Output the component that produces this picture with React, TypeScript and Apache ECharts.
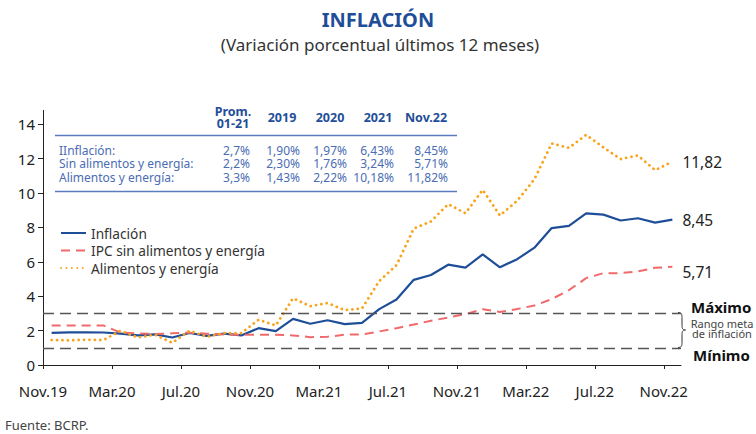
import { useEffect, useRef } from 'react';
import * as echarts from 'echarts';

const months = [
  'Nov.19', 'Dic.19', 'Ene.20', 'Feb.20', 'Mar.20', 'Abr.20', 'May.20', 'Jun.20', 'Jul.20', 'Ago.20',
  'Set.20', 'Oct.20', 'Nov.20', 'Dic.20', 'Ene.21', 'Feb.21', 'Mar.21', 'Abr.21', 'May.21', 'Jun.21',
  'Jul.21', 'Ago.21', 'Set.21', 'Oct.21', 'Nov.21', 'Dic.21', 'Ene.22', 'Feb.22', 'Mar.22', 'Abr.22',
  'May.22', 'Jun.22', 'Jul.22', 'Ago.22', 'Set.22', 'Oct.22', 'Nov.22',
];
const xTickLabels = ['Nov.19', 'Mar.20', 'Jul.20', 'Nov.20', 'Mar.21', 'Jul.21', 'Nov.21', 'Mar.22', 'Jul.22', 'Nov.22'];
const yTickValues = [0, 2, 4, 6, 8, 10, 12, 14];

const inflacion = [
  1.87, 1.90, 1.90, 1.89, 1.82, 1.72, 1.78, 1.60, 1.86, 1.69,
  1.82, 1.72, 2.14, 1.97, 2.68, 2.40, 2.60, 2.38, 2.45, 3.25,
  3.81, 4.95, 5.23, 5.83, 5.66, 6.43, 5.68, 6.15, 6.82, 7.96,
  8.09, 8.81, 8.74, 8.40, 8.53, 8.28, 8.45,
];
const sinAlimentosEnergia = [
  2.30, 2.30, 2.30, 2.30, 1.88, 1.84, 1.80, 1.84, 1.88, 1.82,
  1.77, 1.75, 1.76, 1.76, 1.72, 1.62, 1.64, 1.76, 1.78, 1.95,
  2.14, 2.35, 2.57, 2.76, 2.96, 3.24, 3.08, 3.25, 3.46, 3.83,
  4.35, 5.05, 5.34, 5.34, 5.44, 5.65, 5.71,
];
const alimentosEnergia = [
  1.45, 1.43, 1.47, 1.45, 1.99, 1.60, 1.76, 1.29, 1.99, 1.64,
  1.85, 1.85, 2.63, 2.30, 3.88, 3.42, 3.60, 3.19, 3.29, 4.88,
  5.80, 7.93, 8.35, 9.35, 8.82, 10.18, 8.69, 9.55, 10.80, 12.88,
  12.62, 13.38, 12.65, 11.97, 12.18, 11.33, 11.82,
];
const rangoMeta = [3, 1];
const seriesNames = ['Inflación', 'IPC sin alimentos y energía', 'Alimentos y energía'];

const tableColumns = ['Prom.\n01-21', '2019', '2020', '2021', 'Nov.22'];
const tableRowLabels = ['IInflación:', 'Sin alimentos y energía:', 'Alimentos y energía:'];
const tableInflacion = ['2,7%', '1,90%', '1,97%', '6,43%', '8,45%'];
const tableSinAE = ['2,2%', '2,30%', '1,76%', '3,24%', '5,71%'];
const tableAE = ['3,3%', '1,43%', '2,22%', '10,18%', '11,82%'];

const FONT = '"Noto Sans", sans-serif';
const BLUE = '#1F4E99';
const RED = '#F1696B';
const ORANGE = '#F8A31B';
const TABLE_BLUE = '#4A6DB3';

echarts.graphic.registerShape(
  'brace',
  echarts.graphic.extendPath(
    'M0,0 C3.5,0 4,1.5 4,5 L4,13 C4,16.5 5,17.5 7.5,17.5 C5,17.5 4,18.5 4,22 L4,30 C4,33.5 3.5,35 0,35',
    {}
  )
);

export default function App() {
  const ref = useRef<HTMLDivElement>(null);

  useEffect(() => {
    if (!ref.current) return;
    const chart = echarts.init(ref.current, undefined, { renderer: 'svg' });

    const fmt = (p: any) => Number(p.value[1]).toFixed(2).replace('.', ',');
    const toPairs = (arr: number[]) => arr.map((v, i) => [i + 0.5, v]);
    const xTickValues = xTickLabels.map((l) => months.indexOf(l));

    const colCenters = [233, 282, 330, 378, 426];
    const colRights = [250, 300, 347, 394, 448];
    const rowYs = [150.5, 163.7, 177];
    const tableRows = [tableInflacion, tableSinAE, tableAE];

    const graphic: any[] = [
      {
        type: 'text', x: 378, y: 19,
        style: { text: 'INFLACIÓN', font: `bold 20px ${FONT}`, fill: BLUE, align: 'center', verticalAlign: 'middle' },
      },
      {
        type: 'text', x: 380, y: 44,
        style: { text: '(Variación porcentual últimos 12 meses)', font: `17px ${FONT}`, fill: '#333', align: 'center', verticalAlign: 'middle' },
      },
      { type: 'line', shape: { x1: 55, y1: 135.5, x2: 457, y2: 135.5 }, style: { stroke: '#5B7DC0', lineWidth: 1.5 } },
      { type: 'line', shape: { x1: 55, y1: 191.5, x2: 457, y2: 191.5 }, style: { stroke: '#5B7DC0', lineWidth: 1.5 } },
      {
        type: 'text', x: 5, y: 425,
        style: { text: 'Fuente: BCRP.', font: `13px ${FONT}`, fill: '#444', align: 'left', verticalAlign: 'middle' },
      },
      {
        type: 'text', x: 691, y: 307,
        style: { text: 'Máximo', font: `bold 15px ${FONT}`, lineHeight: 15, fill: '#111', align: 'left', verticalAlign: 'middle' },
      },
      {
        type: 'text', x: 693, y: 355,
        style: { text: 'Mínimo', font: `bold 15px ${FONT}`, lineHeight: 15, fill: '#111', align: 'left', verticalAlign: 'middle' },
      },
      {
        type: 'text', x: 722, y: 323,
        style: { text: 'Rango meta', font: `11px ${FONT}`, lineHeight: 10, fill: '#444', align: 'center', verticalAlign: 'middle' },
      },
      {
        type: 'text', x: 722, y: 333,
        style: { text: 'de inflación', font: `11px ${FONT}`, lineHeight: 10, fill: '#444', align: 'center', verticalAlign: 'middle' },
      },
      { type: 'brace', x: 678, y: 312.5, style: { stroke: '#333', fill: 'none', lineWidth: 1 } },
    ];

    tableColumns.forEach((c, i) => {
      const lines = c.split('\n');
      const startY = 117.5 - ((lines.length - 1) * 11.5) / 2;
      lines.forEach((ln, li) => {
        graphic.push({
          type: 'text', x: colCenters[i], y: startY + li * 11.5,
          style: { text: ln, font: `bold 12.5px ${FONT}`, lineHeight: 11, fill: BLUE, align: 'center', verticalAlign: 'middle' },
        });
      });
    });
    tableRowLabels.forEach((r, ri) => {
      graphic.push({
        type: 'text', x: 59, y: rowYs[ri],
        style: { text: r, font: `12px ${FONT}`, lineHeight: 12, fill: TABLE_BLUE, align: 'left', verticalAlign: 'middle' },
      });
      tableRows[ri].forEach((v, ci) => {
        graphic.push({
          type: 'text', x: colRights[ci], y: rowYs[ri],
          style: { text: v, font: `12px ${FONT}`, lineHeight: 12, fill: TABLE_BLUE, align: 'right', verticalAlign: 'middle' },
        });
      });
    });

    chart.setOption({
      animation: false,
      textStyle: { fontFamily: FONT },
      grid: { left: 43, right: 75, top: 110.4, bottom: 69, containLabel: false },
      legend: {
        orient: 'vertical', left: 60, top: 226, padding: 0, itemWidth: 25, itemHeight: 14, itemGap: 3.5,
        itemStyle: { opacity: 0 },
        textStyle: { fontSize: 13.7, color: '#333', lineHeight: 14, fontFamily: FONT },
        data: seriesNames,
      },
      xAxis: {
        type: 'value', min: 0, max: months.length,
        axisLine: { show: true, lineStyle: { color: '#222', width: 1 } },
        axisTick: { show: true, length: 4, customValues: xTickValues, lineStyle: { color: '#222' } },
        axisLabel: {
          customValues: xTickValues, margin: 18, fontSize: 15, color: '#222', fontFamily: FONT,
          formatter: (v: number) => months[Math.round(v)] ?? '',
        },
        splitLine: { show: false },
      },
      yAxis: {
        type: 'value', min: 0, max: 14.8, interval: 2,
        axisLine: { show: true, lineStyle: { color: '#222', width: 1 } },
        axisTick: { show: true, length: 5, customValues: yTickValues, lineStyle: { color: '#222' } },
        axisLabel: { customValues: yTickValues, margin: 8, fontSize: 15, color: '#222', fontFamily: FONT },
        splitLine: { show: false },
      },
      graphic,
      series: [
        {
          name: seriesNames[0], type: 'line', data: toPairs(inflacion), symbol: 'none',
          lineStyle: { color: BLUE, width: 2.2 }, itemStyle: { color: BLUE },
          endLabel: { show: true, formatter: fmt, fontSize: 15.5, color: '#222', distance: 10, fontFamily: FONT },
          markLine: {
            silent: true, symbol: ['none', 'none'], label: { show: false },
            lineStyle: { color: '#555', type: [11, 6], width: 1.4 },
            data: rangoMeta.map((v) => ({ yAxis: v })),
          },
          z: 2,
        },
        {
          name: seriesNames[1], type: 'line', data: toPairs(sinAlimentosEnergia), symbol: 'none',
          lineStyle: { color: RED, width: 2, type: [9, 6] }, itemStyle: { color: RED },
          endLabel: { show: true, formatter: fmt, fontSize: 15.5, color: '#222', distance: 10, offset: [0, 5], fontFamily: FONT },
          z: 3,
        },
        {
          name: seriesNames[2], type: 'line', data: toPairs(alimentosEnergia), symbol: 'none',
          lineStyle: { color: ORANGE, width: 2.8, type: [0.01, 5.4], cap: 'round' }, itemStyle: { color: ORANGE },
          endLabel: { show: true, formatter: fmt, fontSize: 15.5, color: '#222', distance: 10, fontFamily: FONT },
          z: 4,
        },
      ],
    });

    return () => chart.dispose();
  }, []);

  return <div ref={ref} style={{ position: 'absolute', left: 0, top: 0, width: 756, height: 434 }} />;
}
